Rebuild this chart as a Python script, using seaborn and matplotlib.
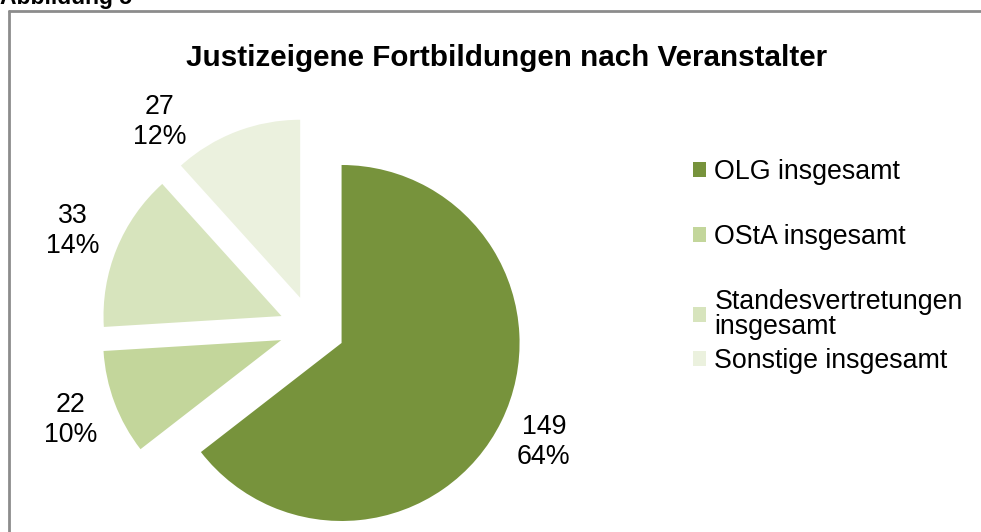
import matplotlib.pyplot as plt
import seaborn as sns
import numpy as np

# data
categories = ["OLG insgesamt", "OStA insgesamt", "Standesvertretungen\ninsgesamt", "Sonstige insgesamt"]
counts = [149, 22, 33, 27]
pct_labels = ["64%", "10%", "14%", "12%"]
colors = ["#77933C", "#C3D69B", "#D7E4BD", "#EBF1DE"]

sns.set_theme(style="white")
plt.rcParams["font.family"] = ["Liberation Sans", "DejaVu Sans"]
plt.rcParams["text.color"] = "black"

W, H = 981, 532
fig = plt.figure(figsize=(W / 100, H / 100), dpi=100)
fig.patch.set_facecolor("white")

# pie axes: centre at (312, 328) px from top-left, radius 178 px
cx, cy, r, lim = 312, H - 328.5, 178, 1.6
ax = fig.add_axes([(cx - r * lim) / W, (cy - r * lim) / H, 2 * r * lim / W, 2 * r * lim / H])

text_labels = [f"{c}\n{p}" for c, p in zip(counts, pct_labels)]
wedges, texts = ax.pie(
    counts, labels=text_labels, colors=colors, startangle=90, counterclock=False,
    explode=[0.185] * len(counts), labeldistance=1.265,
    wedgeprops=dict(linewidth=0), textprops=dict(fontsize=19.3, color="black"),
)
for t in texts:
    t.set_ha("center")
    t.set_va("center")
    t.set_linespacing(1.2)
# Excel pushed the last label a bit further round
ang = np.deg2rad(126.5)
texts[3].set_position((1.44 * np.cos(ang), 1.44 * np.sin(ang)))
ax.set_xlim(-lim, lim)
ax.set_ylim(-lim, lim)
ax.set_axis_off()

fig.text(507 / W, 1 - 58 / H, "Justizeigene Fortbildungen nach Veranstalter",
         ha="center", va="center", fontsize=21.3, fontweight="bold")

# Excel spaces the legend rows evenly, the wrapped entry just hangs below its slot
leg_kw = dict(loc="upper left", frameon=False, fontsize=19.3, handlelength=0.5,
              handleheight=0.5, handletextpad=0.3, borderpad=0, borderaxespad=0)
leg1 = fig.legend(wedges[:3], categories[:3], bbox_to_anchor=(693 / W, 1 - 159 / H),
                  labelspacing=1.45, **leg_kw)
leg2 = fig.legend(wedges[3:], categories[3:], bbox_to_anchor=(693 / W, 1 - 348 / H), **leg_kw)
for t in leg1.get_texts():
    t.set_linespacing(0.95)

# outer frame and cut-off figure caption
fig.add_artist(plt.Line2D([9 / W, 1], [1 - 11 / H, 1 - 11 / H], transform=fig.transFigure,
                          color="#8c8c8c", lw=2))
fig.add_artist(plt.Line2D([9 / W, 9 / W], [0, 1 - 11 / H], transform=fig.transFigure,
                          color="#8c8c8c", lw=2))
fig.text(0, 1 - 4 / H, "Abbildung 5", ha="left", va="baseline", fontsize=16.5, fontweight="bold")

fig.savefig("out.png", dpi=100, facecolor="white")
